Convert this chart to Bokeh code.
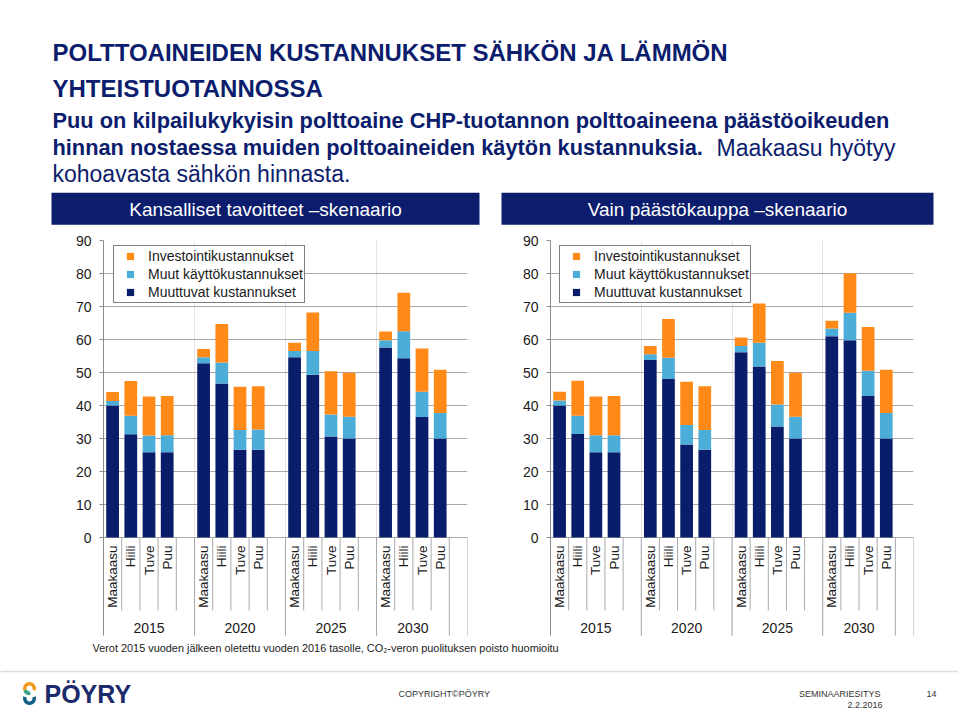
import math
from bokeh.plotting import figure
from bokeh.models import Range1d, FixedTicker, Legend, LegendItem, Label
from bokeh.layouts import column, row
from bokeh.embed import file_html
from bokeh.resources import INLINE
from bokeh.core.properties import value

# ---------------- data ----------------
years = ["2015", "2020", "2025", "2030"]
fuels = ["Maakaasu", "Hiili", "Tuve", "Puu"]
series = ["Muuttuvat kustannukset", "Muut käyttökustannukset", "Investointikustannukset"]
legend_order = ["Investointikustannukset", "Muut käyttökustannukset", "Muuttuvat kustannukset"]

# Kansalliset tavoitteet -skenaario (order: year, fuel)
kans_muuttuvat = [40.0, 31.3, 25.8, 25.8, 52.8, 46.7, 26.6, 26.6,
                  54.6, 49.3, 30.6, 30.0, 57.6, 54.3, 36.5, 30.0]
kans_muut = [1.4, 5.6, 5.1, 5.2, 1.8, 6.3, 6.0, 6.1,
             1.9, 7.2, 6.7, 6.6, 2.2, 8.2, 7.7, 7.7]
kans_invest = [2.7, 10.5, 11.8, 11.9, 2.5, 11.7, 13.1, 13.1,
               2.5, 11.7, 13.1, 13.3, 2.6, 11.7, 13.1, 13.1]

# Vain päästökauppa -skenaario
vain_muuttuvat = [40.0, 31.4, 25.8, 25.8, 53.8, 48.0, 28.2, 26.6,
                  56.1, 51.8, 33.6, 30.0, 61.0, 59.8, 42.9, 30.0]
vain_muut = [1.5, 5.5, 5.2, 5.2, 1.7, 6.5, 5.9, 6.0,
             1.9, 7.2, 6.7, 6.6, 2.3, 8.3, 7.6, 7.7]
vain_invest = [2.7, 10.6, 11.7, 11.9, 2.5, 11.7, 13.1, 13.2,
               2.6, 11.9, 13.2, 13.3, 2.4, 12.0, 13.3, 13.1]

y_ticks = [0, 10, 20, 30, 40, 50, 60, 70, 80, 90]

NAVY = "#0b1d6c"
BAR_NAVY = "#0a1d6b"
LIGHT = "#4badd8"
ORANGE = "#ff8a17"
GRID = "#a8a8a8"
FONT = "Liberation Sans"
colors = [BAR_NAVY, LIGHT, ORANGE]
W = 958


def make_chart(muuttuvat, muut, invest, width, border_left, border_right, legend_dx, label_dx):
    slots = len(fuels) + 1
    n_slots = len(years) * slots
    p = figure(width=width, height=404, x_range=Range1d(0, n_slots), y_range=Range1d(-30, 90),
               output_backend="svg", toolbar_location=None, x_axis_location=None,
               min_border_left=border_left, min_border_right=border_right,
               min_border_top=8, min_border_bottom=0)
    p.outline_line_color = None
    p.background_fill_color = "white"
    p.border_fill_color = "white"

    xs, sub_labels = [], []
    for gi, yr in enumerate(years):
        for fi, f in enumerate(fuels):
            xs.append(gi * slots + fi + 0.5)
            sub_labels.append(f)

    data = {"x": xs, series[0]: muuttuvat, series[1]: muut, series[2]: invest}
    p.vbar_stack(series, x="x", width=0.7, color=colors, line_color=None, source=data)

    # axes / grid
    yax = p.yaxis[0]
    yax.ticker = FixedTicker(ticks=y_ticks)
    yax.bounds = (-29.7, 90)
    yax.axis_line_color = "#8c8c8c"
    yax.major_tick_line_color = "#8c8c8c"
    yax.major_tick_out = 4
    yax.major_tick_in = 0
    yax.minor_tick_line_color = None
    yax.major_label_text_font = FONT
    yax.major_label_text_font_size = "14px"
    yax.major_label_text_color = "#1a1a1a"
    yax.major_label_standoff = 8
    p.ygrid.ticker = FixedTicker(ticks=y_ticks)
    p.ygrid.grid_line_color = GRID
    p.ygrid.grid_line_width = 1

    # category axis decoration (separators)
    short_x, long_x = [], []
    for gi in range(len(years)):
        start = gi * slots
        long_x.append(start)
        for k in range(1, len(fuels) + 1):
            if gi == len(years) - 1 and k == len(fuels):
                long_x.append(start + k)
            else:
                short_x.append(start + k)
    long_x.append(n_slots)
    p.segment(x0=short_x, y0=[0] * len(short_x), x1=short_x, y1=[-22.1] * len(short_x),
              line_color=GRID, line_width=1)
    p.segment(x0=long_x, y0=[0] * len(long_x), x1=long_x, y1=[-29.7] * len(long_x),
              line_color=GRID, line_width=1)

    # category labels
    p.text(x=xs, y=[-2.4] * len(xs), text=sub_labels, angle=math.pi / 2,
           text_align="right", text_baseline="middle", text_font=value(FONT),
           text_font_size="13.5px", text_color="#1a1a1a")
    gx = []
    for gi in range(len(years)):
        n = slots if gi < len(years) - 1 else len(fuels)
        gx.append(gi * slots + n / 2)
    p.text(x=gx, y=[-27.3] * len(gx), text=years, text_align="center",
           text_baseline="middle", text_font=value(FONT), text_font_size="14px",
           text_color="#1a1a1a")

    p.add_layout(Label(x=label_dx, y=45.5, text="EUR/MWh", angle=math.pi / 2,
                       text_align="center", text_baseline="middle", text_font=FONT,
                       text_font_size="14px", text_color="#1a1a1a"))

    # legend with square markers
    leg_rs = {}
    for name, c in zip(series, colors):
        leg_rs[name] = p.scatter(x=[float("nan")], y=[float("nan")], marker="square",
                                 fill_color=c, line_color=None)
    items = [LegendItem(label=name, renderers=[leg_rs[name]]) for name in legend_order]
    legend = Legend(items=items, location=(legend_dx, 333), glyph_width=30, glyph_height=18,
                    label_height=18, label_width=154, spacing=0, padding=1, margin=0,
                    label_standoff=3, label_text_font=FONT, label_text_font_size="14px",
                    label_text_color="#1a1a1a", border_line_color="black",
                    border_line_width=1.5, background_fill_color="white",
                    background_fill_alpha=1.0)
    p.add_layout(legend)
    return p


left = make_chart(kans_muuttuvat, kans_muut, kans_invest, 488, 103, 21, 10, -1.87)
right = make_chart(vain_muuttuvat, vain_muut, vain_invest, W - 488, 62, W - 913, 9, -1.87)

# ---------------- header ----------------
hdr = figure(width=W, height=232, x_range=Range1d(0, W), y_range=Range1d(232, 0),
             output_backend="svg", toolbar_location=None, x_axis_location=None,
             y_axis_location=None, min_border=0)
hdr.outline_line_color = None
hdr.xgrid.visible = False
hdr.ygrid.visible = False

hdr.text(x=[52, 52], y=[51.5, 88],
         text=["POLTTOAINEIDEN KUSTANNUKSET SÄHKÖN JA LÄMMÖN", "YHTEISTUOTANNOSSA"],
         text_font=value(FONT), text_font_style="bold", text_font_size="24px",
         text_color=NAVY, text_baseline="middle")
hdr.text(x=[52, 52],
         y=[120, 147],
         text=["Puu on kilpailukykyisin polttoaine CHP-tuotannon polttoaineena päästöoikeuden",
               "hinnan nostaessa muiden polttoaineiden käytön kustannuksia."],
         text_font=value(FONT), text_font_style="bold", text_font_size="21.8px",
         text_color=NAVY, text_baseline="middle")
hdr.text(x=[895], y=[147], text=["Maakaasu hyötyy"],
         text_font=value(FONT), text_font_style="normal", text_font_size="23px",
         text_color=NAVY, text_baseline="middle", text_align="right")
hdr.text(x=[52], y=[173], text=["kohoavasta sähkön hinnasta."],
         text_font=value(FONT), text_font_style="normal", text_font_size="23px",
         text_color=NAVY, text_baseline="middle")

hdr.quad(left=[51, 501], right=[479, 933], top=[192.3, 192.3], bottom=[224.3, 224.3],
         fill_color=NAVY, line_color=None)
hdr.text(x=[265, 717], y=[208.5, 208.5],
         text=["Kansalliset tavoitteet –skenaario", "Vain päästökauppa –skenaario"],
         text_font=value(FONT), text_font_size="19px", text_color="white",
         text_align="center", text_baseline="middle")

# ---------------- footer ----------------
FH = 73
ftr = figure(width=W, height=FH, x_range=Range1d(0, W), y_range=Range1d(FH, 0),
             output_backend="svg", toolbar_location=None, x_axis_location=None,
             y_axis_location=None, min_border=0)
ftr.outline_line_color = None
ftr.xgrid.visible = False
ftr.ygrid.visible = False

ftr.text(x=[92], y=[11.5],
         text=["Verot 2015 vuoden jälkeen oletettu vuoden 2016 tasolle, CO₂-veron puolituksen poisto huomioitu"],
         text_font=value(FONT), text_font_size="10.9px", text_color="#222222",
         text_baseline="middle")
ftr.segment(x0=[0], y0=[35], x1=[W], y1=[35], line_color="#dcdcdc", line_width=1.5)

# logo
ftr.annular_wedge(x=[29, 29], y=[52, 62], inner_radius=3.0, outer_radius=6.5,
                  start_angle=[math.radians(-20), math.radians(160)],
                  end_angle=[math.radians(200), math.radians(380)],
                  fill_color=["#f39a1e", "#0f5f86"], line_color=None)
ftr.annular_wedge(x=[29], y=[52], inner_radius=3.0, outer_radius=6.5,
                  start_angle=[math.radians(200)], end_angle=[math.radians(280)],
                  fill_color=["#2fa37c"], line_color=None)
ftr.text(x=[44], y=[57.5], text=["PÖYRY"], text_font=value(FONT), text_font_style="bold",
         text_font_size="25px", text_color="#1b2a6b", text_baseline="middle")

ftr.text(x=[398], y=[57], text=["COPYRIGHT©PÖYRY"], text_font=value(FONT),
         text_font_size="9px", text_color="#333333", text_baseline="middle")
ftr.text(x=[880], y=[57], text=["SEMINAARIESITYS"], text_font=value(FONT),
         text_font_size="9px", text_color="#333333", text_baseline="middle",
         text_align="right")
ftr.text(x=[926], y=[57], text=["14"], text_font=value(FONT),
         text_font_size="9px", text_color="#333333", text_baseline="middle")
ftr.text(x=[882], y=[68], text=["2.2.2016"], text_font=value(FONT),
         text_font_size="9px", text_color="#333333", text_baseline="middle",
         text_align="right")

layout = column(hdr, row(left, right), ftr)
open("out.html", "w").write(file_html(layout, INLINE))
